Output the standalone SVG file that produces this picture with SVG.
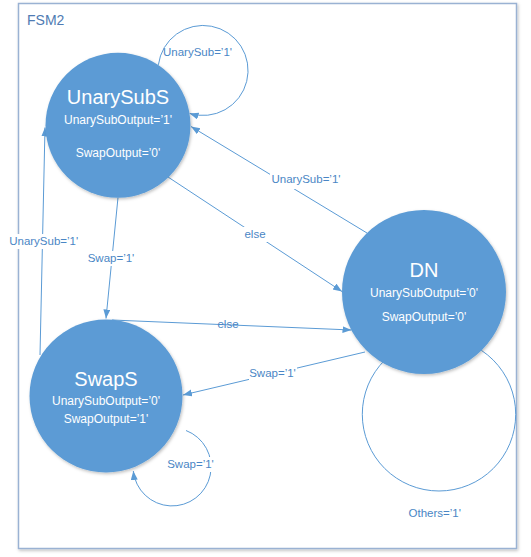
<svg xmlns="http://www.w3.org/2000/svg" width="531" height="557" viewBox="0 0 531 557">
<style>
.frame{fill:#fff;stroke:#9ab2d3;stroke-width:1.5}
.title{font-family:"Liberation Sans",Arial,sans-serif;font-size:14px;fill:#4f7bb3}
.state{fill:#5b9bd5;stroke:none}
.sname{font-family:"Liberation Sans",Arial,sans-serif;font-size:20px;fill:#fff;text-anchor:middle}
.sout{font-family:"Liberation Sans",Arial,sans-serif;font-size:12px;fill:#fff;text-anchor:middle}
.edge{fill:none;stroke:#5b9bd5;stroke-width:1}
.lbl{font-family:"Liberation Sans",Arial,sans-serif;font-size:11.5px;fill:#4a86c5;text-anchor:middle}
.bg{fill:#fff}
</style>
<defs>
<marker id="arr" markerUnits="userSpaceOnUse" markerWidth="10" markerHeight="8" refX="9" refY="3.5" orient="auto">
<path d="M0,0 L9,3.5 L0,7 z" fill="#5b9bd5"/>
</marker>
<filter id="sh" x="-20%" y="-20%" width="140%" height="140%">
<feDropShadow dx="1" dy="1.5" stdDeviation="1.5" flood-color="#000" flood-opacity="0.25"/>
</filter>
</defs>
<g id="FSM2">
<rect class="frame" x="18.5" y="3.5" width="498" height="545" filter="url(#sh)"/>
<text class="title" x="27" y="25">FSM2</text>
</g>
<g id="connectors">
<path class="edge" d="M158.4,64.8 A45,45 0 1 1 189.6,113.4" marker-end="url(#arr)"/>
<path class="edge" d="M118,197.5 L106,318.5" marker-end="url(#arr)"/>
<path class="edge" d="M40,355 L45,127.5" marker-end="url(#arr)"/>
<path class="edge" d="M168,177 L342,291.5" marker-end="url(#arr)"/>
<path class="edge" d="M367,233 L191,126.5" marker-end="url(#arr)"/>
<path class="edge" d="M112,320 L351.5,330" marker-end="url(#arr)"/>
<path class="edge" d="M365,352 L183,395" marker-end="url(#arr)"/>
<path class="edge" d="M186,430.5 A39,39 0 1 1 133.3,471" marker-end="url(#arr)"/>
<circle class="edge" cx="439" cy="414.3" r="76.7"/>
<text class="lbl" x="197.5" y="56">UnarySub=’1'</text>
<rect class="bg" x="87" y="251" width="48" height="15"/>
<text class="lbl" x="111" y="262">Swap=’1'</text>
<rect class="bg" x="8" y="234" width="71" height="15"/>
<text class="lbl" x="43.7" y="245">UnarySub=’1'</text>
<rect class="bg" x="243" y="227" width="25" height="15"/>
<text class="lbl" x="255" y="238">else</text>
<rect class="bg" x="270" y="172" width="72" height="17"/>
<text class="lbl" x="306" y="183">UnarySub=’1'</text>
<text class="lbl" x="228" y="328">else</text>
<rect class="bg" x="249" y="366" width="48" height="15"/>
<text class="lbl" x="272.5" y="377">Swap=’1'</text>
<rect class="bg" x="166" y="457" width="49" height="15"/>
<text class="lbl" x="190.5" y="468">Swap=’1'</text>
<text class="lbl" x="434.7" y="517.3">Others=’1'</text>
</g>
<g id="UnarySubS">
<circle class="state" cx="118" cy="125.3" r="72.5" filter="url(#sh)"/>
<text class="sname" x="118" y="104">UnarySubS</text>
<text class="sout" x="118" y="124">UnarySubOutput=’1'</text>
<text class="sout" x="118" y="157">SwapOutput=’0'</text>
</g>
<g id="SwapS">
<circle class="state" cx="106" cy="396" r="76.5" filter="url(#sh)"/>
<text class="sname" x="106" y="386">SwapS</text>
<text class="sout" x="106" y="405">UnarySubOutput=’0'</text>
<text class="sout" x="106" y="423">SwapOutput=’1'</text>
</g>
<g id="DN">
<circle class="state" cx="424" cy="292" r="82" filter="url(#sh)"/>
<text class="sname" x="424" y="277">DN</text>
<text class="sout" x="424" y="297">UnarySubOutput=’0'</text>
<text class="sout" x="424" y="321">SwapOutput=’0'</text>
</g>
</svg>
